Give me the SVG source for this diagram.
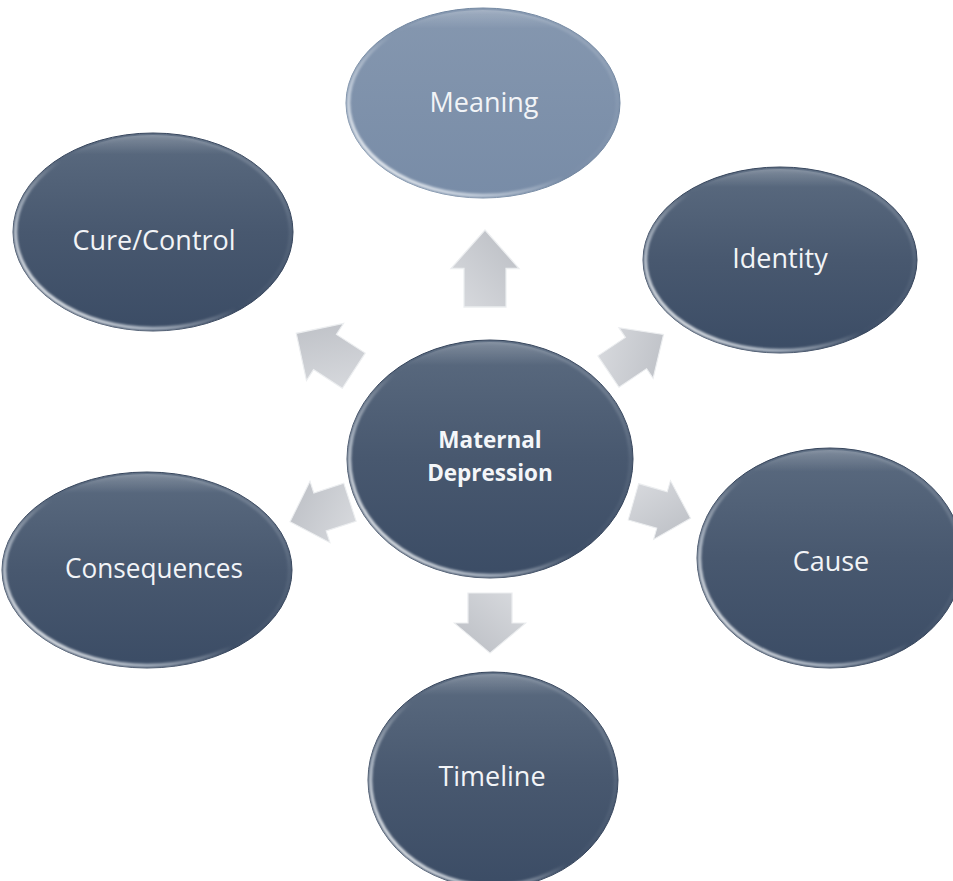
<svg xmlns="http://www.w3.org/2000/svg" width="953" height="881" viewBox="0 0 953 881">
  <defs>
    <!-- body fill for the dark oval nodes -->
    <linearGradient id="darkFill" x1="0" y1="0" x2="0" y2="1">
      <stop offset="0" stop-color="#5b6b80"/>
      <stop offset="0.5" stop-color="#48586f"/>
      <stop offset="1" stop-color="#3b4c65"/>
    </linearGradient>
    <!-- body fill for the highlighted oval -->
    <linearGradient id="lightFill" x1="0" y1="0" x2="0" y2="1">
      <stop offset="0" stop-color="#8597af"/>
      <stop offset="1" stop-color="#788ca7"/>
    </linearGradient>
    <!-- glossy rim, bright towards the lower left -->
    <linearGradient id="rim" x1="0" y1="0.85" x2="0.9" y2="0.1">
      <stop offset="0" stop-color="#ffffff" stop-opacity="0.95"/>
      <stop offset="0.25" stop-color="#e6edf4" stop-opacity="0.6"/>
      <stop offset="0.5" stop-color="#ffffff" stop-opacity="0"/>
      <stop offset="0.85" stop-color="#c8d2de" stop-opacity="0.1"/>
      <stop offset="1" stop-color="#e4eaf1" stop-opacity="0.25"/>
    </linearGradient>
    <!-- top sheen line -->
    <linearGradient id="sheen" x1="0" y1="0" x2="0" y2="1">
      <stop offset="0" stop-color="#ffffff" stop-opacity="0.22"/>
      <stop offset="0.1" stop-color="#ffffff" stop-opacity="0"/>
      <stop offset="1" stop-color="#ffffff" stop-opacity="0"/>
    </linearGradient>
    <linearGradient id="arrowFill" x1="0" y1="0" x2="1" y2="1">
      <stop offset="0" stop-color="#d9dbdf"/>
      <stop offset="1" stop-color="#babdc3"/>
    </linearGradient>
    <filter id="soft" x="-5%" y="-5%" width="110%" height="110%">
      <feGaussianBlur stdDeviation="0.9"/>
    </filter>
    <!-- block arrow pointing along +x, centred on the origin -->
    <path id="blockArrow" d="M-35,-21 L0,-21 L0,-34 L35,0 L0,34 L0,21 L-35,21 Z"/>
  </defs>
  <style>
    .body { stroke: #34435a; stroke-width: 1; }
    .lightBody { stroke: #7186a0; stroke-width: 1; }
    .rim { fill: none; stroke: url(#rim); stroke-width: 3.5; filter: url(#soft); }
    .sheen { fill: url(#sheen); stroke: none; }
    .label { font-family: "Open Sans", "Liberation Sans", sans-serif; font-size: 27px; fill: #f2f4f7; text-anchor: middle; }
    .hub { font-family: "Open Sans", "Liberation Sans", sans-serif; font-size: 22.5px; font-weight: bold; fill: #f4f6f9; text-anchor: middle; }
    .arrow { fill: url(#arrowFill); stroke: #eceef0; stroke-width: 1.2; }
  </style>

  <rect width="953" height="881" fill="#ffffff"/>

  <!-- connectors: block arrows radiating from the hub -->
  <g id="connectors">
    <use href="#blockArrow" class="arrow" transform="translate(485,268.5) rotate(-90) scale(1.1,1)"/>
    <use href="#blockArrow" class="arrow" transform="translate(325,352) rotate(-147) scale(0.98,1)"/>
    <use href="#blockArrow" class="arrow" transform="translate(636,353) rotate(-34) scale(0.95,0.9)"/>
    <use href="#blockArrow" class="arrow" transform="translate(320,512) rotate(162) scale(0.9,0.95)"/>
    <use href="#blockArrow" class="arrow" transform="translate(662,510) rotate(16) scale(0.85,0.9)"/>
    <use href="#blockArrow" class="arrow" transform="translate(490,623) rotate(90) scale(0.86,1.05)"/>
  </g>

  <g id="node-meaning">
    <ellipse cx="483" cy="103" rx="137" ry="95" fill="url(#lightFill)" class="lightBody"/>
    <ellipse cx="483" cy="103" rx="134.5" ry="92.5" class="rim"/>
    <ellipse cx="483" cy="103" rx="135" ry="93" class="sheen"/>
    <text x="484" y="112" class="label">Meaning</text>
  </g>

  <g id="node-cure-control">
    <ellipse cx="153" cy="232" rx="140" ry="99" fill="url(#darkFill)" class="body"/>
    <ellipse cx="153" cy="232" rx="137.5" ry="96.5" class="rim"/>
    <ellipse cx="153" cy="232" rx="138" ry="97" class="sheen"/>
    <text x="154" y="250" class="label">Cure/Control</text>
  </g>

  <g id="node-identity">
    <ellipse cx="780" cy="260" rx="137" ry="93" fill="url(#darkFill)" class="body"/>
    <ellipse cx="780" cy="260" rx="134.5" ry="90.5" class="rim"/>
    <ellipse cx="780" cy="260" rx="135" ry="91" class="sheen"/>
    <text x="780" y="268" class="label">Identity</text>
  </g>

  <g id="node-maternal-depression">
    <ellipse cx="490" cy="459" rx="143" ry="119" fill="url(#darkFill)" class="body"/>
    <ellipse cx="490" cy="459" rx="140.5" ry="116.5" class="rim"/>
    <ellipse cx="490" cy="459" rx="141" ry="117" class="sheen"/>
    <text x="490" y="448" class="hub">Maternal</text>
    <text x="490" y="481" class="hub">Depression</text>
  </g>

  <g id="node-consequences">
    <ellipse cx="147" cy="570" rx="145" ry="98" fill="url(#darkFill)" class="body"/>
    <ellipse cx="147" cy="570" rx="142.5" ry="95.5" class="rim"/>
    <ellipse cx="147" cy="570" rx="143" ry="96" class="sheen"/>
    <text x="154" y="578" class="label" textLength="178" lengthAdjust="spacingAndGlyphs">Consequences</text>
  </g>

  <g id="node-cause">
    <ellipse cx="830" cy="558" rx="133" ry="110" fill="url(#darkFill)" class="body"/>
    <ellipse cx="830" cy="558" rx="130.5" ry="107.5" class="rim"/>
    <ellipse cx="830" cy="558" rx="131" ry="108" class="sheen"/>
    <text x="831" y="571" class="label">Cause</text>
  </g>

  <g id="node-timeline">
    <ellipse cx="493" cy="780" rx="125" ry="108" fill="url(#darkFill)" class="body"/>
    <ellipse cx="493" cy="780" rx="122.5" ry="105.5" class="rim"/>
    <ellipse cx="493" cy="780" rx="123" ry="106" class="sheen"/>
    <text x="492" y="786" class="label">Timeline</text>
  </g>
</svg>
